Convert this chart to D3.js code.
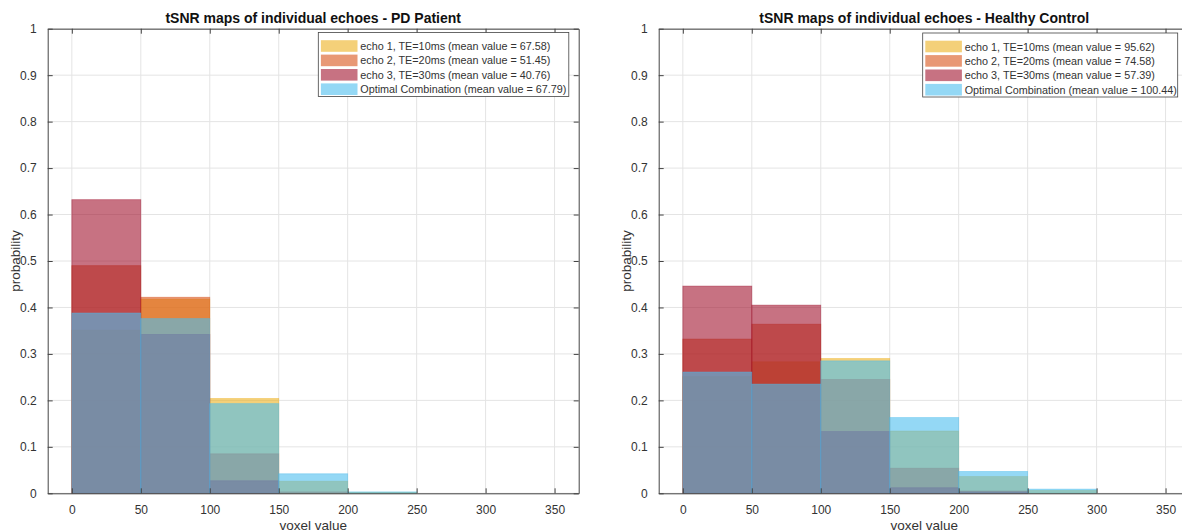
<!DOCTYPE html>
<html>
<head>
<meta charset="utf-8">
<script src="https://cdn.jsdelivr.net/npm/d3@7"></script>
<style>
  html, body { margin: 0; padding: 0; background: #fff; }
  svg { display: block; font-family: "Liberation Sans", Arial, Helvetica, sans-serif; }
</style>
</head>
<body>
<svg id="fig" width="1182" height="532"></svg>
<script>
// Histogram bin edges (voxel value) and axis ticks
const binEdges = [0, 50, 100, 150, 200, 250, 300];
const xTicks = [0, 50, 100, 150, 200, 250, 300, 350];
const yTicks = [0, 0.1, 0.2, 0.3, 0.4, 0.5, 0.6, 0.7, 0.8, 0.9, 1];
const xTickLabels = ["0", "50", "100", "150", "200", "250", "300", "350"];
const yTickLabels = ["0", "0.1", "0.2", "0.3", "0.4", "0.5", "0.6", "0.7", "0.8", "0.9", "1"];

// Series names and colours (drawn in this order, translucent)
const seriesNames = ["echo 1, TE=10ms", "echo 2, TE=20ms", "echo 3, TE=30ms", "Optimal Combination"];
const seriesColors = ["#EDB120", "#D95319", "#A2142F", "#4DBEEE"];

// PD patient: probability per bin
const pdEcho1   = [0.351, 0.418, 0.204, 0.026, 0.002, 0];
const pdEcho2   = [0.490, 0.422, 0.085, 0.003, 0, 0];
const pdEcho3   = [0.632, 0.342, 0.027, 0, 0, 0];
const pdOptimal = [0.388, 0.376, 0.193, 0.042, 0.003, 0];
const pdMeans   = ["67.58", "51.45", "40.76", "67.79"];

// Healthy control: probability per bin
const hcEcho1   = [0.251, 0.283, 0.290, 0.134, 0.036, 0.006];
const hcEcho2   = [0.332, 0.364, 0.245, 0.054, 0.005, 0];
const hcEcho3   = [0.446, 0.405, 0.133, 0.012, 0.003, 0];
const hcOptimal = [0.261, 0.235, 0.285, 0.163, 0.047, 0.009];
const hcMeans   = ["95.62", "74.58", "57.39", "100.44"];

const panels = [
  { title: "tSNR maps of individual echoes - PD Patient",
    series: [pdEcho1, pdEcho2, pdEcho3, pdOptimal], means: pdMeans,
    left: 47.7, legendX: 318.3, legendY: 32.5, legendW: 250.5 },
  { title: "tSNR maps of individual echoes - Healthy Control",
    series: [hcEcho1, hcEcho2, hcEcho3, hcOptimal], means: hcMeans,
    left: 658.7, legendX: 922.7, legendY: 33, legendW: 255 }
];

const svg = d3.select("#fig");
const plotW = 531, plotTop = 28.7, plotBottom = 493.3;
const axisColor = "#444";
const textColor = "#333";

panels.forEach(p => {
  const x = d3.scaleLinear().domain([-17.5, 367.5]).range([p.left, p.left + plotW]);
  const y = d3.scaleLinear().domain([0, 1]).range([plotBottom, plotTop]);
  const g = svg.append("g");

  // grid
  g.append("g").selectAll("line").data(xTicks).join("line")
    .attr("x1", d => x(d)).attr("x2", d => x(d)).attr("y1", plotTop).attr("y2", plotBottom)
    .attr("stroke", "#e4e4e4").attr("stroke-width", 1);
  g.append("g").selectAll("line").data(yTicks).join("line")
    .attr("y1", d => y(d)).attr("y2", d => y(d)).attr("x1", p.left).attr("x2", p.left + plotW)
    .attr("stroke", "#e4e4e4").attr("stroke-width", 1);

  // translucent histograms
  p.series.forEach((vals, si) => {
    const bins = vals.map((v, i) => ({ x0: binEdges[i], x1: binEdges[i + 1], v }))
      .filter(b => b.v > 0);
    g.append("g").selectAll("rect").data(bins).join("rect")
      .attr("x", b => x(b.x0)).attr("width", b => x(b.x1) - x(b.x0))
      .attr("y", b => y(b.v)).attr("height", b => y(0) - y(b.v))
      .attr("fill", seriesColors[si]).attr("fill-opacity", 0.6)
      .attr("stroke", seriesColors[si]).attr("stroke-opacity", 0.5).attr("stroke-width", 0.8);
  });

  // axes with inward ticks on all sides
  const tickLen = 5;
  const bx = d3.axisBottom(x).tickValues(xTicks).tickFormat((d, i) => xTickLabels[i])
    .tickSizeInner(-tickLen).tickSizeOuter(0).tickPadding(12);
  const axB = g.append("g").attr("transform", `translate(0,${plotBottom})`).call(bx);
  const tx = d3.axisTop(x).tickValues(xTicks).tickFormat("").tickSizeInner(-tickLen).tickSizeOuter(0);
  const axT = g.append("g").attr("transform", `translate(0,${plotTop})`).call(tx);
  const ly = d3.axisLeft(y).tickValues(yTicks).tickFormat((d, i) => yTickLabels[i])
    .tickSizeInner(-tickLen).tickSizeOuter(0).tickPadding(11);
  const axL = g.append("g").attr("transform", `translate(${p.left},0)`).call(ly);
  const ry = d3.axisRight(y).tickValues(yTicks).tickFormat("").tickSizeInner(-tickLen).tickSizeOuter(0);
  const axR = g.append("g").attr("transform", `translate(${p.left + plotW},0)`).call(ry);
  [axB, axT, axL, axR].forEach(a => {
    a.select(".domain").attr("stroke", axisColor).attr("stroke-width", 1);
    a.selectAll(".tick line").attr("stroke", axisColor).attr("stroke-width", 1);
    a.selectAll(".tick text").attr("fill", textColor).style("font-size", "12px")
      .style("font-family", "'Liberation Sans', Arial, sans-serif");
  });

  // title and axis labels
  const cx = p.left + plotW / 2;
  g.append("text").attr("x", cx).attr("y", 22.5).attr("text-anchor", "middle")
    .attr("font-weight", "bold").attr("font-size", "14px").attr("fill", "#111")
    .text(p.title);
  g.append("text").attr("x", cx).attr("y", 530).attr("text-anchor", "middle")
    .attr("font-size", "13.5px").attr("fill", textColor).text("voxel value");
  g.append("text").attr("transform", `translate(${p.left - 27.5},${(plotTop + plotBottom) / 2}) rotate(-90)`)
    .attr("text-anchor", "middle").attr("font-size", "13.5px").attr("fill", textColor)
    .text("probability");

  // legend
  const lg = g.append("g").attr("transform", `translate(${p.legendX},${p.legendY})`);
  lg.append("rect").attr("width", p.legendW).attr("height", 64)
    .attr("fill", "#fff").attr("stroke", axisColor).attr("stroke-width", 0.8);
  seriesNames.forEach((name, i) => {
    const rowY = 13.5 + i * 14.4;
    lg.append("rect").attr("x", 2.6).attr("y", rowY - 5.8).attr("width", 36.6).attr("height", 11.6)
      .attr("fill", seriesColors[i]).attr("fill-opacity", 0.6);
    lg.append("text").attr("x", 42).attr("y", rowY + 4).attr("font-size", "10.8px")
      .attr("fill", textColor).text(`${name} (mean value = ${p.means[i]})`);
  });
});
</script>
</body>
</html>
